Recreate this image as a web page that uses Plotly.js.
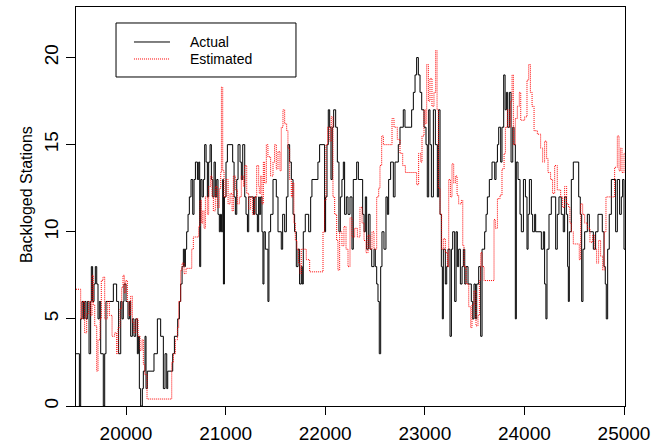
<!DOCTYPE html>
<html>
<head>
<meta charset="utf-8">
<script src="https://cdn.plot.ly/plotly-3.0.1.min.js"></script>
<style>html,body{margin:0;padding:0;background:#fff;}#chart{width:657px;height:447px;}</style>
</head>
<body>
<div id="chart"></div>
<script>
const actualX = [19498,19532,19545,19558,19572,19585,19598,19612,19629,19645,19652,19665,19679,19692,19706,19719,19732,19746,19772,19786,19799,19873,19906,19926,19947,19960,19973,19980,20000,20020,20034,20047,20064,20080,20097,20114,20124,20134,20147,20164,20174,20191,20201,20214,20281,20315,20348,20375,20392,20409,20419,20469,20486,20519,20536,20549,20563,20576,20589,20596,20609,20623,20636,20653,20670,20683,20697,20717,20730,20740,20750,20763,20777,20790,20804,20817,20830,20844,20857,20871,20884,20897,20911,20924,20937,20948,20958,20971,20978,20988,21004,21018,21071,21085,21098,21112,21125,21145,21158,21172,21192,21205,21219,21232,21279,21292,21306,21319,21332,21338,21352,21365,21375,21385,21399,21425,21435,21452,21476,21509,21526,21559,21573,21593,21610,21626,21643,21660,21677,21693,21710,21727,21743,21760,21770,21780,21800,21834,21854,21867,21927,21944,21994,22004,22018,22031,22045,22058,22071,22085,22105,22122,22138,22152,22168,22182,22195,22212,22229,22249,22269,22282,22316,22333,22376,22390,22403,22416,22433,22450,22467,22490,22503,22517,22530,22543,22557,22570,22590,22610,22624,22637,22657,22684,22701,22734,22751,22784,22801,22868,22885,22902,22918,22935,22952,22969,22992,23012,23025,23039,23052,23066,23086,23106,23126,23139,23153,23166,23176,23186,23206,23220,23233,23253,23267,23280,23300,23314,23327,23340,23357,23374,23387,23401,23414,23434,23467,23481,23494,23508,23521,23541,23561,23575,23601,23615,23628,23648,23675,23702,23715,23729,23742,23762,23775,23792,23806,23819,23832,23849,23866,23883,23896,23909,23919,23936,23956,23969,23990,24010,24026,24037,24050,24070,24083,24103,24113,24170,24190,24203,24216,24227,24247,24270,24314,24330,24347,24370,24390,24404,24421,24434,24441,24451,24471,24491,24545,24561,24575,24588,24605,24632,24652,24692,24715,24739,24782,24799,24812,24822,24836,24852,24873,24916,24933,24956,24973,24986,25000,25010];
const actualY = [3,0,5,6,5,6,5,6,3,6,8,6,7,8,7,5,6,3,0,3,6,7,6,3,6,5,6,7,6,5,6,4,5,4,5,3,4,1,0,1,2,4,1,2,3,5,4,1,3,1,2,3,4,5,6,7,8,9,8,9,10,11,12,13,11,13,14,13,14,8,13,12,13,15,14,12,14,15,13,12,14,12,13,11,10,11,10,13,7,12,14,15,14,12,11,13,15,14,13,15,12,11,10,12,11,12,11,10,12,11,12,10,7,10,9,6,10,11,13,12,10,9,11,10,12,15,14,13,11,10,8,9,7,8,7,10,11,10,12,13,14,15,10,12,15,17,16,13,16,17,16,14,10,12,13,14,11,12,11,12,9,13,14,13,11,10,12,9,11,9,8,9,8,7,6,3,8,10,9,12,11,13,14,12,14,15,16,17,16,17,18,19,20,19,18,17,16,15,12,17,15,12,17,15,12,17,11,8,5,9,7,8,9,4,9,10,6,10,8,9,7,8,9,7,8,7,6,5,7,5,7,8,4,9,10,11,12,13,14,13,14,15,16,14,16,19,17,18,16,18,14,16,15,5,14,13,11,10,13,12,9,11,13,11,10,11,10,9,10,7,5,9,11,12,9,11,12,11,10,12,11,8,6,10,13,14,12,11,6,9,10,11,10,9,10,11,10,8,7,5,9,11,13,10,13,11,12,13,9,9];

const estX = [19498,19545,19562,19585,19605,19625,19645,19659,19672,19686,19706,19719,19739,19752,19769,19786,19813,19833,19860,19886,19906,19920,19940,19957,19970,19983,19997,20014,20030,20047,20064,20080,20100,20121,20141,20161,20174,20188,20211,20459,20476,20496,20516,20529,20549,20563,20583,20603,20660,20676,20730,20743,20757,20770,20784,20797,20817,20830,20850,20864,20877,20897,20917,20937,20951,20958,20971,20984,21004,21025,21045,21065,21078,21098,21118,21138,21158,21179,21192,21212,21232,21252,21272,21292,21312,21332,21338,21352,21365,21379,21392,21409,21425,21452,21476,21492,21509,21526,21546,21559,21576,21593,21613,21626,21643,21660,21673,21686,21700,21717,21733,21747,21760,21810,21844,21978,21994,22008,22024,22045,22061,22078,22095,22115,22128,22145,22168,22188,22209,22229,22249,22269,22296,22323,22349,22370,22390,22410,22430,22450,22470,22490,22517,22537,22550,22567,22584,22671,22691,22724,22751,22778,22805,22918,22938,22959,22972,22992,23005,23019,23036,23052,23072,23092,23109,23123,23136,23153,23169,23186,23206,23227,23240,23257,23273,23290,23307,23324,23340,23367,23381,23394,23414,23441,23461,23474,23494,23514,23534,23548,23561,23575,23595,23695,23708,23729,23755,23775,23796,23809,23829,23849,23862,23876,23889,23909,23929,23949,23963,24003,24026,24043,24060,24077,24097,24130,24163,24183,24203,24223,24237,24263,24283,24304,24330,24364,24384,24404,24424,24444,24457,24471,24491,24551,24565,24585,24605,24632,24658,24685,24705,24725,24745,24765,24786,24802,24819,24893,24906,24933,24950,24966,24980,25000,25010];
const estY = [6.7,5.0,6.0,4.2,5.3,6.0,5.2,7.5,5.8,4.6,2.0,3.8,5.0,7.2,7.4,5.0,6.0,5.2,4.0,4.2,3.0,4.5,5.6,6.8,7.5,6.5,7.2,6.0,5.2,6.3,4.8,4.2,5.0,4.0,3.2,3.8,2.4,1.8,0.4,2.5,3.0,3.8,4.5,6.0,7.8,8.2,7.6,7.9,9.0,9.7,10.3,11.8,10.5,11.2,10.2,12.0,11.0,12.6,13.2,12.0,11.2,12.6,11.4,12.5,13.4,18.3,13.5,12.0,13.0,11.6,12.2,11.2,13.2,12.4,11.6,12.0,13.2,12.6,13.8,12.2,11.3,12.0,11.0,12.0,13.8,12.6,12.2,13.2,11.6,14.0,12.8,15.0,14.3,13.2,14.0,15.0,13.6,14.6,13.5,16.0,17.0,16.2,15.8,14.8,13.0,12.0,12.8,10.5,9.5,9.0,8.2,7.6,9.0,8.4,7.7,10.0,11.8,15.0,16.0,15.2,16.6,12.0,11.0,9.5,7.8,10.0,9.2,10.3,9.0,8.0,10.8,9.7,10.2,9.7,11.4,10.5,9.5,8.8,9.8,9.0,10.0,9.0,12.0,12.5,13.8,15.5,15.0,16.5,16.0,15.3,14.5,13.8,13.4,12.7,14.5,14.0,15.5,17.0,16.2,19.6,17.5,18.8,17.2,18.0,20.4,17.0,12.5,11.0,9.0,9.6,8.8,8.0,13.0,12.0,13.9,12.8,13.2,12.1,11.6,11.8,9.2,8.0,7.0,5.7,4.5,5.8,6.6,4.6,5.2,7.2,8.8,8.0,7.2,10.7,10.2,11.9,12.1,13.6,14.5,16.0,17.0,16.0,17.5,19.0,15.0,16.5,17.2,18.0,16.4,16.6,18.7,19.6,18.0,17.2,15.8,15.6,14.8,14.0,15.2,14.2,13.4,13.0,12.2,13.8,12.4,12.0,11.4,12.6,11.6,11.4,10.5,10.0,9.3,8.4,11.6,11.0,10.5,10.2,9.4,9.8,9.0,8.2,9.5,8.6,7.8,10.0,12.0,12.0,13.7,15.5,13.5,14.8,13.4,14.5,14.5];

const xTicks = [20000,21000,22000,23000,24000,25000];
const xTickText = ["20000","21000","22000","23000","24000","25000"];
const yTicks = [0,5,10,15,20];
const yTickText = ["0","5","10","15","20"];
const seriesNames = ["Actual","Estimated"];
const yTitle = "Backloged Stations";

const FONT = "Liberation Sans, Arial, Helvetica, sans-serif";
const RED_DASH = "1px,1px";

const traces = [
  {x: actualX, y: actualY, name: seriesNames[0], type: "scatter", mode: "lines",
   line: {shape: "hv", color: "#000000", width: 1}},
  {x: estX, y: estY, name: seriesNames[1], type: "scatter", mode: "lines",
   line: {shape: "hv", color: "#ff0000", width: 1, dash: RED_DASH}}
];

const layout = {
  width: 657, height: 447,
  margin: {l: 76, r: 32, t: 7, b: 41, pad: 0},
  paper_bgcolor: "#ffffff", plot_bgcolor: "#ffffff",
  showlegend: false,
  font: {family: FONT, color: "#000000"},
  xaxis: {
    range: [19498, 25010], tickvals: xTicks, ticktext: xTickText,
    ticks: "outside", ticklen: 8, tickwidth: 1, tickcolor: "#000000",
    showgrid: false, zeroline: false, showline: true, mirror: true,
    linecolor: "#000000", linewidth: 1,
    tickfont: {family: FONT, size: 19, color: "#000000"},
    ticklabelstandoff: 2
  },
  yaxis: {
    range: [0, 22.9], tickvals: yTicks, ticktext: yTickText, tickangle: -90,
    ticks: "outside", ticklen: 9, tickwidth: 1, tickcolor: "#000000",
    showgrid: false, zeroline: false, showline: true, mirror: true,
    linecolor: "#000000", linewidth: 1,
    tickfont: {family: FONT, size: 19, color: "#000000"},
    ticklabelstandoff: 0
  },
  shapes: [
    {type: "rect", xref: "paper", yref: "paper", x0: 0.0729, x1: 0.4007, y0: 0.8246, y1: 0.9599,
     line: {color: "#000000", width: 1}, fillcolor: "rgba(255,255,255,0)"},
    {type: "line", xref: "paper", yref: "paper", x0: 0.1056, x1: 0.1712, y0: 0.9123, y1: 0.9123,
     line: {color: "#000000", width: 1}},
    {type: "line", xref: "paper", yref: "paper", x0: 0.1056, x1: 0.1712, y0: 0.8697, y1: 0.8697,
     line: {color: "#ff0000", width: 1, dash: RED_DASH}}
  ],
  annotations: [
    {text: seriesNames[0], xref: "paper", yref: "paper", x: 0.204, y: 0.9123,
     xanchor: "left", yanchor: "middle", showarrow: false, font: {family: FONT, size: 14, color: "#000000"}},
    {text: seriesNames[1], xref: "paper", yref: "paper", x: 0.204, y: 0.8697,
     xanchor: "left", yanchor: "middle", showarrow: false, font: {family: FONT, size: 14, color: "#000000"}},
    {text: yTitle, xref: "paper", yref: "paper", x: -0.0911, y: 0.531, textangle: -90,
     xanchor: "center", yanchor: "middle", showarrow: false, font: {family: FONT, size: 16, color: "#000000"}}
  ]
};

Plotly.newPlot("chart", traces, layout, {staticPlot: true, displayModeBar: false});
</script>
</body>
</html>
